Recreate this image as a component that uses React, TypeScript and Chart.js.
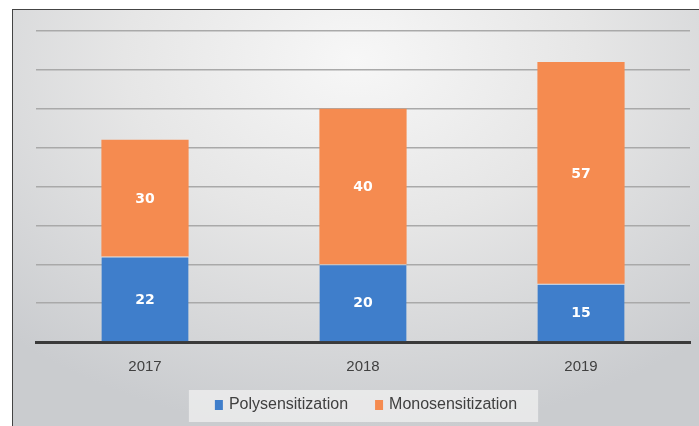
import React, { useEffect, useRef } from "react";
import { Chart, registerables } from "chart.js";

Chart.register(...registerables);

const categories = ["2017", "2018", "2019"];
const polysensitization = [22, 20, 15];
const monosensitization = [30, 40, 57];
const seriesNames = ["Polysensitization", "Monosensitization"];
const seriesColors = ["#3f7ecb", "#f58b50"];

const FONT = "'Liberation Sans Narrow', 'Liberation Sans', Arial, sans-serif";

const segmentLabels = {
  id: "segmentLabels",
  afterDatasetsDraw(chart: any) {
    const ctx = chart.ctx;
    ctx.save();
    ctx.fillStyle = "#ffffff";
    ctx.font = "bold 14px 'DejaVu Sans', sans-serif";
    ctx.textAlign = "center";
    ctx.textBaseline = "middle";
    chart.data.datasets.forEach((ds: any, i: number) => {
      const meta = chart.getDatasetMeta(i);
      meta.data.forEach((bar: any, j: number) => {
        const y = (bar.y + bar.base) / 2;
        ctx.fillText(String(ds.data[j]), bar.x, y + 1);
      });
    });
    ctx.restore();
  },
};

const customLegend = {
  id: "customLegend",
  afterDraw(chart: any) {
    const ctx = chart.ctx;
    const area = chart.chartArea;
    ctx.save();
    ctx.font = "16px " + FONT;
    const box = 8, boxH = 10, gapText = 6, gapItem = 27;
    const items = chart.data.datasets.map((ds: any) => ({
      text: ds.label,
      color: ds.backgroundColor,
      w: ctx.measureText(ds.label).width,
    }));
    let total = 0;
    items.forEach((it: any, i: number) => {
      total += box + gapText + it.w + (i < items.length - 1 ? gapItem : 0);
    });
    const cx = (area.left + area.right) / 2 + 3;
    const cy = 405;
    let x = cx - total / 2;
    ctx.fillStyle = "rgba(240,240,240,0.75)";
    ctx.fillRect(x - 26, 390, total + 47, 32);
    ctx.textBaseline = "middle";
    ctx.textAlign = "left";
    items.forEach((it: any) => {
      ctx.fillStyle = it.color;
      ctx.fillRect(x, cy - boxH / 2, box, boxH);
      x += box + gapText;
      ctx.fillStyle = "#404040";
      ctx.fillText(it.text, x, cy);
      x += it.w + gapItem;
    });
    ctx.restore();
  },
};

export default function App() {
  const ref = useRef<HTMLCanvasElement>(null);
  useEffect(() => {
    const chart = new Chart(ref.current!, {
      type: "bar",
      data: {
        labels: categories,
        datasets: [
          {
            label: seriesNames[0],
            data: polysensitization,
            backgroundColor: seriesColors[0],
            borderColor: "rgba(255,255,255,0.55)",
            borderWidth: { top: 1, left: 0, right: 0, bottom: 0 },
            borderSkipped: false,
            categoryPercentage: 1,
            barPercentage: 0.4,
          },
          {
            label: seriesNames[1],
            data: monosensitization,
            backgroundColor: seriesColors[1],
            borderWidth: 0,
            categoryPercentage: 1,
            barPercentage: 0.4,
          },
        ],
      },
      options: {
        animation: false,
        responsive: false,
        maintainAspectRatio: false,
        layout: { padding: { left: 36, right: 9, top: 31, bottom: 34 } },
        scales: {
          x: {
            stacked: true,
            grid: { display: false, drawTicks: false },
            border: { display: true, color: "#3a3a3a", width: 3 },
            ticks: {
              color: "#404040",
              font: { family: FONT, size: 15 },
              padding: 16,
            },
          },
          y: {
            stacked: true,
            min: 0,
            max: 80,
            ticks: { display: false, stepSize: 10 },
            grid: { color: "#a9a9a9", lineWidth: 1.5, drawTicks: false },
            border: { display: false },
          },
        },
        plugins: {
          legend: { display: false },
          tooltip: { enabled: false },
        },
      },
      plugins: [segmentLabels, customLegend],
    });
    return () => chart.destroy();
  }, []);

  return (
    <div style={{ position: "absolute", left: 0, top: 0, width: 699, height: 426, background: "#ffffff", overflow: "hidden" }}>
      <div
        style={{
          position: "absolute",
          left: 12,
          top: 9,
          width: 699 - 12,
          height: 426 - 9,
          boxSizing: "border-box",
          borderLeft: "1.5px solid #444",
          borderTop: "1.5px solid #444",
          background: "radial-gradient(ellipse 75% 90% at 50% 12%, #f7f7f7 0%, #e6e6e6 45%, #cacccf 100%)",
        }}
      />
      <canvas ref={ref} width={699} height={426} style={{ position: "absolute", left: 0, top: 0 }} />
    </div>
  );
}
